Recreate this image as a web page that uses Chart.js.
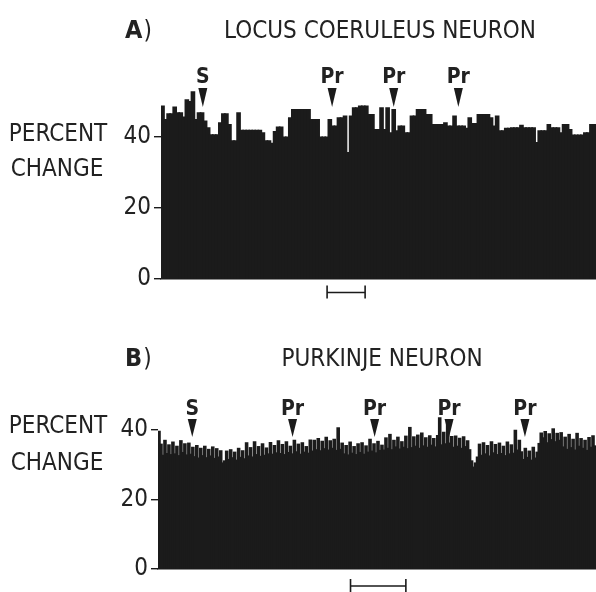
<!DOCTYPE html>
<html><head><meta charset="utf-8">
<script src="https://cdn.jsdelivr.net/npm/chart.js@4.4.1/dist/chart.umd.min.js"></script>
<style>
html,body{margin:0;padding:0;background:#fff;}
#wrap{position:relative;width:596px;height:592px;overflow:hidden;background:#fff;}
canvas{position:absolute;left:0;}
#ca{top:0;}
#cb{top:300px;}
</style></head><body>
<div id="wrap">
<canvas id="ca" width="596" height="300"></canvas>
<canvas id="cb" width="596" height="292"></canvas>
</div>
<script>
// ---------- data ----------
const yTickValues = [0, 20, 40];
const yTitleLines = ['PERCENT', 'CHANGE'];

const panelLetterA = 'A';
const titleA = 'LOCUS COERULEUS NEURON';
const valuesA = [
  48.7, 44.9, 46.5, 46.5, 48.4, 46.8, 46.8, 45.6, 50.5, 50.0,
  52.7, 44.9, 46.8, 46.8, 44.5, 42.6, 40.6, 40.6, 40.6, 44.0,
  46.5, 46.5, 43.5, 38.9, 38.9, 46.8, 41.9, 41.9, 41.9, 41.9,
  41.9, 41.9, 41.9, 41.2, 38.9, 38.9, 38.2, 41.5, 42.8, 42.8,
  40.0, 40.0, 45.4, 47.7, 47.7, 47.7, 47.7, 47.7, 47.7, 44.9,
  44.9, 44.9, 40.0, 40.0, 40.0, 44.9, 43.1, 43.1, 45.4, 45.4,
  45.9, 35.6, 45.9, 48.2, 48.2, 48.7, 48.7, 48.7, 46.3, 46.3,
  42.1, 42.1, 48.2, 42.1, 48.2, 41.2, 47.7, 41.7, 43.1, 43.1,
  41.2, 41.2, 45.9, 45.9, 47.7, 47.7, 47.7, 46.3, 46.3, 43.5,
  43.5, 43.5, 43.5, 44.0, 43.1, 43.1, 45.9, 43.1, 43.1, 43.1,
  42.4, 45.4, 43.8, 43.8, 46.3, 46.3, 46.3, 46.3, 45.4, 43.1,
  45.9, 41.7, 41.7, 42.4, 42.4, 42.6, 42.6, 42.6, 43.3, 42.6,
  42.6, 42.6, 42.6, 38.4, 41.7, 41.7, 41.7, 43.5, 42.6, 42.6,
  42.6, 41.2, 43.5, 43.5, 42.1, 40.5, 40.5, 40.5, 40.5, 41.2,
  41.2, 43.5, 43.5
];
const markerLabelsA = ['S', 'Pr', 'Pr', 'Pr'];
const markerBinsA = [13.75, 56.25, 76.5, 97.75];
const scaleBarBinsA = [54.6, 67.1];

const panelLetterB = 'B';
const titleB = 'PURKINJE NEURON';
const valuesB = [
  39.5,
  35.8, 32.6, 36.9, 33.1, 35.6, 32.8, 36.4, 33.0, 35.2, 32.5, 36.8, 33.4, 35.9, 32.7, 36.1, 32.9,
  34.9, 32.2, 35.4, 31.8, 34.6, 32.5, 35.2, 31.9, 34.3, 32.4, 35.0, 31.7, 34.5, 32.1, 33.9,
  30.4, 31.0,
  33.8, 31.4, 34.2, 31.9, 33.5, 31.2, 34.6, 32.0, 33.9, 31.6,
  36.2, 32.4, 34.8, 32.1, 36.5, 32.8, 35.1, 32.3, 35.9, 32.6, 34.7,
  33.0, 36.3, 32.9, 35.4, 33.3, 36.8, 33.1, 35.7, 32.8, 36.5, 33.4, 35.2, 33.0, 36.9, 33.6, 35.8, 32.9, 36.2, 33.5, 35.1, 33.2, 37.0, 33.8,
  36.9, 34.2, 37.4, 33.9, 36.6, 34.5, 37.8, 34.1, 36.8, 34.6, 37.2, 34.0,
  40.5, 34.3,
  36.1, 33.0, 35.4, 32.7, 36.4, 33.2, 35.1, 32.8, 35.9, 33.4, 36.2, 32.9, 35.3,
  33.5, 37.2, 33.8, 35.9, 33.3, 36.6, 34.0, 35.5,
  34.1, 37.6, 34.6, 38.6, 34.2, 36.9, 35.0, 37.8, 34.4, 36.5, 34.9, 38.1, 34.5,
  40.6,
  34.8, 37.9, 35.2, 38.4, 34.6, 39.0, 35.3, 37.6, 34.9, 38.2, 35.5, 37.4, 35.0,
  38.3, 43.4, 35.6, 39.2, 35.9, 42.6, 36.1, 38.0,
  34.9, 38.1, 35.2, 37.5, 34.6, 37.9, 35.1, 36.8, 34.2,
  31.0, 29.2, 30.4, 32.1,
  35.8, 32.6, 36.2, 33.0, 35.4, 32.4, 36.5, 33.3, 35.7, 32.8, 36.1, 33.1, 35.2, 32.5, 36.4, 33.0, 35.6,
  33.2, 39.8, 34.1, 36.9, 33.6,
  31.4, 34.6, 32.0, 33.8, 31.2, 34.9, 31.8, 33.5,
  36.0, 39.0, 37.6, 39.4, 36.2, 38.8, 37.1, 40.2, 36.5, 38.9, 36.9, 39.1,
  35.0, 37.8, 34.3, 38.6, 34.8, 37.2, 34.1, 38.9, 35.2, 37.4, 34.6, 36.9, 34.0, 37.7, 34.9, 38.2, 35.3
];
const markerLabelsB = ['S', 'Pr', 'Pr', 'Pr', 'Pr'];
const markerBinsB = [17.2, 67.6, 108.8, 146.2, 184.3];
const scaleBarBinsB = [96.7, 124.5];

// ---------- style ----------
const INK = '#1b1b1b';
const TXT = '#222222';
const NARROW = '"Liberation Sans Narrow", "Arial Narrow", "DejaVu Sans Condensed", sans-serif';

const decor = {
  id: 'decor',
  afterDatasetsDraw(chart, args, o) {
    const ctx = chart.ctx, xs = chart.scales.x, ys = chart.scales.y;
    const n = chart.data.labels.length;
    const px = b => xs.left + b / n * (xs.right - xs.left);
    ctx.save();
    ctx.fillStyle = TXT;
    ctx.strokeStyle = INK;
    ctx.textBaseline = 'alphabetic';
    // panel letter
    ctx.textAlign = 'left';
    ctx.font = 'bold 25px ' + NARROW;
    ctx.fillText(o.letter, 125, o.titleY);
    const lw = ctx.measureText(o.letter).width;
    ctx.font = '24px ' + NARROW;
    ctx.fillText(')', 125 + lw + 1, o.titleY);
    // title
    ctx.textAlign = 'center';
    ctx.font = '24px ' + NARROW;
    ctx.fillText(o.title, o.titleX, o.titleY);
    // y title
    const y40 = ys.getPixelForValue(40);
    ctx.font = '24px ' + NARROW;
    ctx.fillText(yTitleLines[0], 58, y40 + o.pDy);
    ctx.fillText(yTitleLines[1], 57, y40 + o.cDy);
    // markers
    ctx.font = 'bold 21px ' + NARROW;
    o.markerLabels.forEach((lab, i) => {
      const x = px(o.markerBins[i]);
      ctx.fillStyle = TXT;
      ctx.fillText(lab, x, o.markY);
      ctx.fillStyle = INK;
      ctx.beginPath();
      ctx.moveTo(x - 4.5, o.triTop);
      ctx.lineTo(x + 4.5, o.triTop);
      ctx.lineTo(x, o.triBot);
      ctx.closePath();
      ctx.fill();
    });
    // scale bar
    const x1 = px(o.scaleBar[0]), x2 = px(o.scaleBar[1]);
    ctx.lineWidth = 1.6;
    ctx.beginPath();
    ctx.moveTo(x1, o.barY); ctx.lineTo(x2, o.barY);
    ctx.moveTo(x1, o.barY - 7); ctx.lineTo(x1, o.barY + 6);
    ctx.moveTo(x2, o.barY - 7); ctx.lineTo(x2, o.barY + 6);
    ctx.stroke();
    ctx.restore();
  }
};

function makeChart(id, values, cfg) {
  const labels = values.map((v, i) => i + 1);
  return new Chart(document.getElementById(id), {
    type: 'bar',
    data: {
      labels,
      datasets: [{
        data: values,
        backgroundColor: INK,
        borderWidth: 0,
        inflateAmount: 0.8,
        barPercentage: 1,
        categoryPercentage: 1
      }]
    },
    options: {
      responsive: false,
      animation: false,
      devicePixelRatio: 1,
      layout: { padding: { top: cfg.padTop, left: 0, right: 0, bottom: 0 } },
      plugins: {
        legend: { display: false },
        tooltip: { enabled: false },
        decor: cfg.decor
      },
      scales: {
        x: {
          type: 'category',
          grid: { display: false, drawTicks: false },
          ticks: { display: false },
          border: { display: true, color: INK, width: 1.6 },
          afterFit: s => { s.height = cfg.xHeight; }
        },
        y: {
          min: 0,
          max: cfg.yMax,
          afterBuildTicks: s => { s.ticks = yTickValues.map(v => ({ value: v })); },
          afterFit: s => { s.width = cfg.yWidth; },
          grid: { display: true, drawOnChartArea: false, drawTicks: true, tickLength: 7, color: INK, lineWidth: 1.4 },
          border: { display: false },
          ticks: {
            color: TXT,
            padding: 3,
            font: { family: NARROW, size: 24 },
            callback: v => String(v)
          }
        }
      }
    },
    plugins: [decor]
  });
}

makeChart('ca', valuesA, {
  padTop: 84, xHeight: 21, yWidth: 161, yMax: 55,
  decor: {
    letter: panelLetterA, title: titleA, titleX: 380, titleY: 38,
    pDy: 4, cDy: 39,
    markerLabels: markerLabelsA, markerBins: markerBinsA,
    markY: 83, triTop: 88, triBot: 107,
    scaleBar: scaleBarBinsA, barY: 292.5
  }
});

makeChart('cb', valuesB, {
  padTop: 95, xHeight: 23, yWidth: 158, yMax: 50,
  decor: {
    letter: panelLetterB, title: titleB, titleX: 382, titleY: 66,
    pDy: 3, cDy: 40,
    markerLabels: markerLabelsB, markerBins: markerBinsB,
    markY: 115, triTop: 119, triBot: 137,
    scaleBar: scaleBarBinsB, barY: 286
  }
});
</script>
</body></html>
